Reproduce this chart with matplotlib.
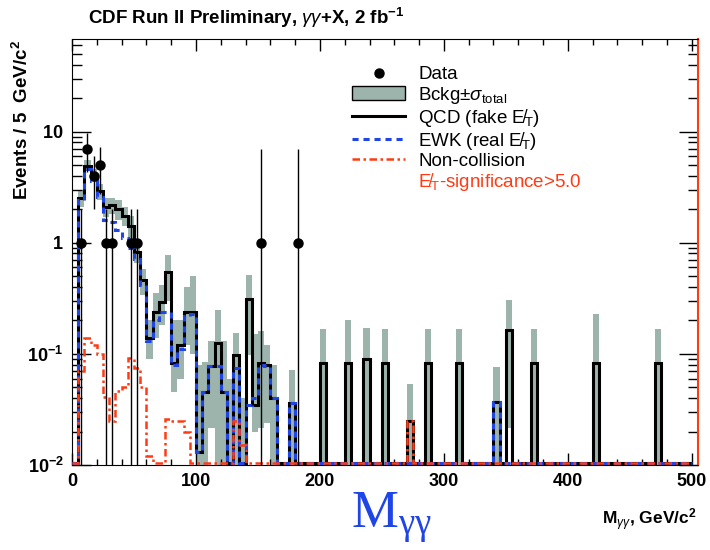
import numpy as np
import matplotlib
matplotlib.use('Agg')
import matplotlib.pyplot as plt
from matplotlib.lines import Line2D
from matplotlib.patches import Patch
from matplotlib.ticker import FixedLocator, FixedFormatter, MultipleLocator

plt.rcParams['font.family'] = ['Liberation Sans', 'DejaVu Sans']
plt.rcParams['mathtext.fontset'] = 'custom'
plt.rcParams['mathtext.rm'] = 'Liberation Sans'
plt.rcParams['mathtext.it'] = 'Liberation Sans:italic'
plt.rcParams['mathtext.bf'] = 'Liberation Sans:bold'

# 5 GeV bins, 0-500 GeV
edges = np.arange(0, 505, 5)

qcd = [0, 2.5, 4.9, 4.1, 2.9, 2.1, 2.2, 2.0, 1.75, 1.4,
       0.83, 0.46, 0.14, 0.24, 0.29, 0.55, 0.083, 0.12, 0.24, 0.24,
       0.013, 0.045, 0.077, 0.126, 0.045, 0, 0.098, 0, 0.31, 0.035,
       0.082, 0.079, 0.040, 0, 0, 0.036, 0, 0, 0, 0,
       0.082, 0, 0, 0, 0.082, 0, 0, 0.09, 0, 0,
       0.082, 0, 0, 0, 0.025, 0, 0, 0.082, 0, 0,
       0, 0, 0.082, 0, 0, 0, 0, 0, 0.037, 0,
       0.164, 0, 0, 0, 0.082, 0, 0, 0, 0, 0,
       0, 0, 0, 0, 0.082, 0, 0, 0, 0, 0,
       0, 0, 0, 0, 0.082, 0, 0, 0, 0, 0]

ewk = [0, 2.4, 4.6, 3.6, 2.6, 1.6, 1.55, 1.3, 1.1, 0.9,
       0.72, 0.42, 0.13, 0.2, 0.24, 0.24, 0.08, 0.11, 0.22, 0.23,
       0.013, 0.045, 0.077, 0.077, 0.045, 0, 0.075, 0, 0.035, 0.04,
       0.08, 0.078, 0.04, 0, 0, 0.036, 0, 0, 0, 0,
       0, 0, 0, 0, 0, 0, 0, 0, 0, 0,
       0, 0, 0, 0, 0, 0, 0, 0, 0, 0,
       0, 0, 0, 0, 0, 0, 0, 0, 0.037, 0,
       0, 0, 0, 0, 0, 0, 0, 0, 0, 0,
       0, 0, 0, 0, 0, 0, 0, 0, 0, 0,
       0, 0, 0, 0, 0, 0, 0, 0, 0, 0]

noncoll = [0, 0.07, 0.14, 0.12, 0.1, 0.041, 0.025, 0.046, 0.05, 0.092,
           0.075, 0.05, 0.012, 0, 0, 0.026, 0.025, 0.025, 0.02, 0,
           0, 0, 0, 0, 0, 0, 0.025, 0.015, 0, 0,
           0, 0, 0, 0, 0, 0, 0, 0, 0, 0,
           0, 0, 0, 0, 0, 0, 0, 0, 0, 0,
           0, 0, 0, 0, 0.025, 0, 0, 0, 0, 0,
           0, 0, 0, 0, 0, 0, 0, 0, 0, 0,
           0, 0, 0, 0, 0, 0, 0, 0, 0, 0,
           0, 0, 0, 0, 0, 0, 0, 0, 0, 0,
           0, 0, 0, 0, 0, 0, 0, 0, 0, 0]

# total background +- sigma band
band_hi = [0, 3.0, 5.5, 4.6, 3.4, 2.5, 2.55, 2.4, 2.1, 1.75,
           1.0, 0.58, 0.2, 0.35, 0.42, 0.78, 0.2, 0.2, 0.4, 0.5,
           0.08, 0.085, 0.13, 0.25, 0.13, 0.06, 0.154, 0.04, 0.515, 0.15,
           0.16, 0.12, 0.08, 0, 0, 0.072, 0, 0, 0, 0,
           0.167, 0, 0, 0, 0.2, 0, 0, 0.17, 0, 0,
           0.166, 0, 0, 0, 0.0533, 0, 0, 0.166, 0, 0,
           0, 0, 0.166, 0, 0, 0, 0, 0, 0.0754, 0,
           0.306, 0, 0, 0, 0.166, 0, 0, 0, 0, 0,
           0, 0, 0, 0, 0.228, 0, 0, 0, 0, 0,
           0, 0, 0, 0, 0.166, 0, 0, 0, 0, 0]

band_lo = [0, 2.1, 4.4, 3.5, 2.4, 1.7, 1.8, 1.6, 1.4, 1.05,
           0.65, 0.34, 0.09, 0.14, 0.18, 0.30, 0.045, 0.06, 0.12, 0.1,
           0, 0, 0.0215, 0, 0, 0, 0, 0, 0.098, 0.02,
           0.0215, 0.024, 0, 0, 0, 0, 0, 0, 0, 0,
           0, 0, 0, 0, 0, 0, 0, 0, 0, 0,
           0, 0, 0, 0, 0, 0, 0, 0, 0, 0,
           0, 0, 0, 0, 0, 0, 0, 0, 0, 0,
           0.0215, 0, 0, 0, 0, 0, 0, 0, 0, 0,
           0, 0, 0, 0, 0, 0, 0, 0, 0, 0,
           0, 0, 0, 0, 0, 0, 0, 0, 0, 0]

data_m = [7.5, 12.5, 17.5, 22.5, 27.5, 32.5, 47.5, 52.5, 152.5, 182.5]
data_n = [1, 7, 4, 5, 1, 1, 1, 1, 1, 1]
data_up = [2, 9.65, 6, 7.24, 2, 2, 2, 2, 7, 7]
data_dn = [0, 4.35, 2, 2.76, 0, 0, 0, 0, 0, 0]

ymin, ymax = 0.01, 68
floor = 0.0104
gray = '#9db4ad'
blue = '#1f45e6'
red = '#ff3a14'

fig = plt.figure(figsize=(7.1, 5.5), dpi=100)
ax = fig.add_axes([72/710, 85/550, 626/710, 426/550])

hi = np.array(band_hi)
lo = np.where(np.array(band_lo) > 0, band_lo, 1e-3)
show = hi > 0
ax.bar(edges[:-1][show], (hi - lo)[show], bottom=lo[show], width=5, align='edge',
       color=gray, linewidth=0, zorder=1)

def clip0(v):
    v = np.array(v, dtype=float)
    return np.where(v > 0, v, floor)

ax.stairs(clip0(qcd), edges, baseline=floor, color='black', lw=2.2, zorder=2)
ax.stairs(clip0(ewk), edges, baseline=floor, color=blue, lw=2.2,
          linestyle=(0, (2.0, 1.6)), zorder=3)
ax.stairs(clip0(noncoll), edges, baseline=floor, color=red, lw=1.8,
          linestyle=(0, (3, 1.4, 1, 1.4)), zorder=4)

n = np.array(data_n, dtype=float)
yerr = [n - np.maximum(data_dn, 1e-3), np.array(data_up) - n]
ax.errorbar(data_m, n, yerr=yerr, fmt='o', color='black', ms=6.5, lw=1,
            capsize=0, zorder=5)

ax.set_yscale('log')
ax.set_xlim(0, 505)
ax.set_ylim(ymin, ymax)

ax.xaxis.set_major_locator(MultipleLocator(100))
ax.xaxis.set_minor_locator(MultipleLocator(20))
ax.yaxis.set_major_locator(FixedLocator([0.01, 0.1, 1, 10]))
ax.yaxis.set_major_formatter(FixedFormatter([r'$\mathbf{10^{-2}}$', r'$\mathbf{10^{-1}}$',
                                             r'$\mathbf{1}$', r'$\mathbf{10}$']))
ax.tick_params(which='both', direction='in', top=True, right=True,
               labelsize=13, pad=6)
for lab in ax.get_xticklabels():
    lab.set_fontweight('bold')
ax.tick_params(axis='x', which='major', length=8.5, width=1)
ax.tick_params(axis='x', which='minor', length=4.3, width=1)
ax.tick_params(axis='y', which='major', length=13.5, width=1)
ax.tick_params(axis='y', which='minor', length=7, width=1)
ax.spines['right'].set_color(red)
ax.spines['right'].set_linewidth(1.5)

handles = [Line2D([], [], marker='o', color='black', ls='none', ms=6.5),
           Patch(facecolor=gray, edgecolor='black', lw=1),
           Line2D([], [], color='black', lw=2.2),
           Line2D([], [], color=blue, lw=2.2, linestyle=(0, (2.0, 1.6))),
           Line2D([], [], color=red, lw=1.8, linestyle=(0, (3, 1.4, 1, 1.4))),
           Line2D([], [], color='none')]
labels = ['Data',
          r'Bckg$\pm\sigma_{\rm total}$',
          'QCD (fake E\u0338$_{\\rm T}$)',
          'EWK (real E\u0338$_{\\rm T}$)',
          'Non-collision',
          'E\u0338$_{\\rm T}$-significance>5.0']
leg = ax.legend(handles, labels, loc='upper left', bbox_to_anchor=(0.448, 0.936),
                frameon=False, fontsize=13.5, handlelength=2.8, handletextpad=0.7,
                labelspacing=0.06, borderpad=0, borderaxespad=0)
leg.get_texts()[-1].set_color(red)

fig.text(88/710, 1 - 18/550, r'CDF Run II Preliminary, $\gamma\gamma$+X, 2 fb$^{\mathbf{-1}}$',
         fontsize=13.5, fontweight='bold', ha='left', va='center')
fig.text(22/710, 1 - 40/550, r'Events / 5  GeV/c$^{\mathbf{2}}$', rotation=90,
         fontsize=13.5, fontweight='bold', ha='center', va='top')
fig.text(697/710, 1 - 520/550, r'M$_{\gamma\gamma}$, GeV/c$^{\mathbf{2}}$',
         fontsize=12.5, fontweight='bold', ha='right', va='center')
fig.text(392/710, 1 - 518/550, r'$\mathregular{M_{γγ}}$', family='Liberation Serif',
         fontsize=38, color=blue, ha='center', va='center')

fig.savefig('out.png', dpi=100)
